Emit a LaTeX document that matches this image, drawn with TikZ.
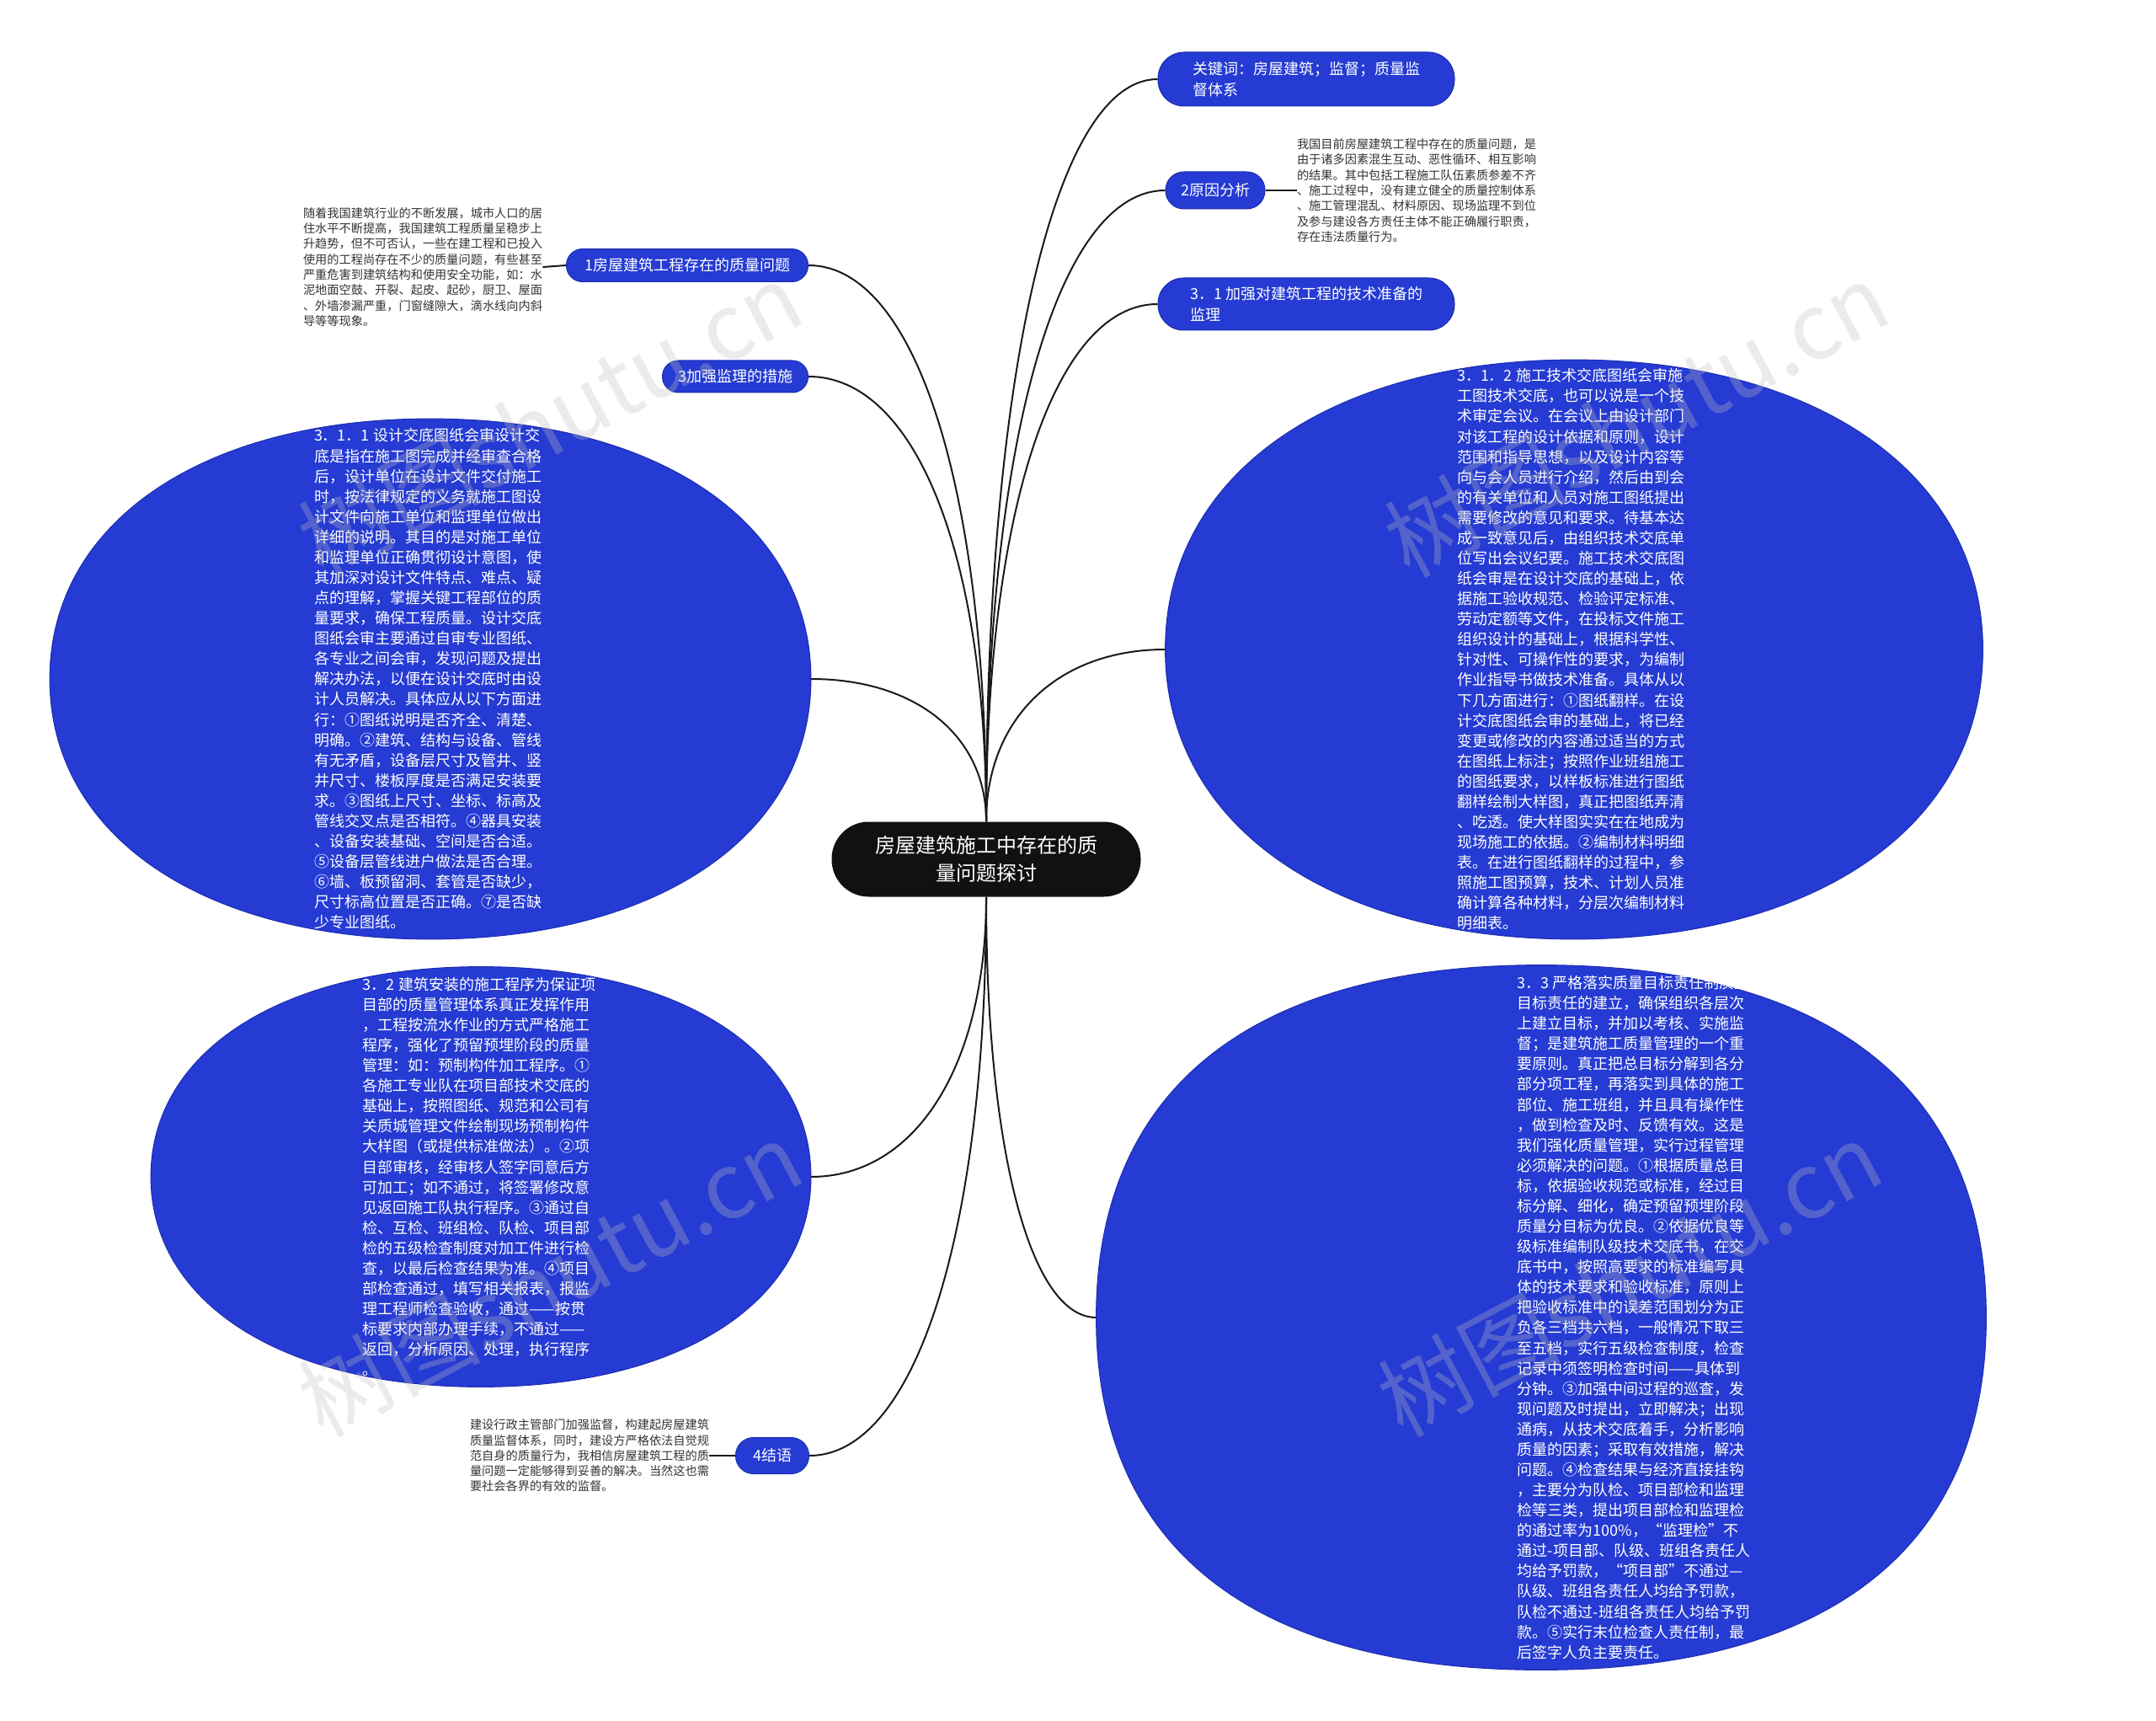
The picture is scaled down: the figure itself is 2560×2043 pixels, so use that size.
\documentclass[tikz,border=0pt]{standalone}
\usepackage{fontspec}
\setmainfont{Noto Sans CJK SC}
\usetikzlibrary{calc}
\definecolor{mmblue}{HTML}{253BD3}
\definecolor{mmborder}{HTML}{1C2DB0}
\definecolor{mmblack}{HTML}{111111}
\definecolor{mmline}{HTML}{1A1A1A}
\definecolor{mmtext}{HTML}{333333}
\definecolor{wmcol}{RGB}{190,190,190}
\newcommand{\mmlink}[3]{%
  \coordinate (#3) at (#1 |- #2);
  \draw[link] (#1) .. controls ($(#1)!0.6!(#3)$) and ($(#2)!0.6!(#3)$) .. (#2);}
\newcommand{\blob}[2]{%
  \filldraw[blobstyle] (#1.west)
   .. controls ($(#1.west)!#2!(#1.north west)$) and ($(#1.north)!#2!(#1.north west)$) .. (#1.north)
   .. controls ($(#1.north)!#2!(#1.north east)$) and ($(#1.east)!#2!(#1.north east)$) .. (#1.east)
   .. controls ($(#1.east)!#2!(#1.south east)$) and ($(#1.south)!#2!(#1.south east)$) .. (#1.south)
   .. controls ($(#1.south)!#2!(#1.south west)$) and ($(#1.west)!#2!(#1.south west)$) .. (#1.west) -- cycle;}
\begin{document}
\begin{tikzpicture}[x=0.5pt,y=-0.5pt,
  pill/.style={draw=mmborder, line width=0.5pt, fill=mmblue, text=white,
    rounded corners=#1, inner sep=0pt, align=left,
    font=\fontsize{9}{12.2}\selectfont},
  rootbox/.style={fill=mmblack, text=white, rounded corners=22pt, inner sep=0pt,
    align=center, font=\fontsize{12}{16.5}\selectfont,
    minimum width=183.5pt, minimum height=44.5pt},
  ellbox/.style={rectangle, inner sep=0pt},
  blobstyle/.style={draw=mmborder, line width=0.5pt, fill=mmblue},
  elltext/.style={text=white, align=left, inner sep=0pt,
    font=\fontsize{9}{12.04}\selectfont},
  smalltext/.style={text=mmtext, align=left, inner sep=0pt,
    font=\fontsize{7.1}{9.15}\selectfont},
  link/.style={draw=mmline, line width=1pt},
  wmark/.style={text=wmcol, opacity=0.3, font=\fontsize{54}{60}\selectfont, inner sep=0pt}
]
\fill[white] (0,0) rectangle (2560,2043);
\useasboundingbox (0,0) rectangle (2560,2043);

% ellipse frames (shapes drawn by \blob)
\node[ellbox, minimum width=451.5pt, minimum height=308.5pt] (e311) at (511,806) {};
\node[ellbox, minimum width=485pt, minimum height=343.5pt] (e312) at (1869,771) {};
\node[ellbox, minimum width=391.5pt, minimum height=249pt] (e32) at (571,1397) {};
\node[ellbox, minimum width=528pt, minimum height=418pt] (e33) at (1830,1564) {};
\blob{e311}{0.6}
\blob{e312}{0.6}
\blob{e32}{0.6}
\blob{e33}{0.65}

% root
\node[rootbox] (root) at (1171,1020) {房屋建筑施工中存在的质\\量问题探讨};

% pills
\node[pill=15.5pt, minimum width=176pt, minimum height=32pt] (kw) at (1551,94) {关键词：房屋建筑；监督；质量监\\督体系};
\node[pill=10.8pt, minimum width=59pt, minimum height=22pt] (p2) at (1443,226) {2原因分析};
\node[pill=15.2pt, minimum width=176pt, minimum height=31pt] (p31) at (1551,361) {3．1 加强对建筑工程的技术准备的\\监理};
\node[pill=9.6pt, minimum width=143.5pt, minimum height=19.5pt] (p1) at (816,315) {1房屋建筑工程存在的质量问题};
\node[pill=9.4pt, minimum width=86.5pt, minimum height=19pt] (p3) at (873,447) {3加强监理的措施};
\node[pill=10.6pt, minimum width=43.5pt, minimum height=21.5pt] (p4) at (917,1728) {4结语};

% small texts
\node[smalltext] (t1) at (502,317) {随着我国建筑行业的不断发展，城市人口的居\\住水平不断提高，我国建筑工程质量呈稳步上\\升趋势，但不可否认，一些在建工程和已投入\\使用的工程尚存在不少的质量问题，有些甚至\\严重危害到建筑结构和使用安全功能，如：水\\泥地面空鼓、开裂、起皮、起砂，厨卫、屋面\\、外墙渗漏严重，门窗缝隙大，滴水线向内斜\\导等等现象。};
\node[smalltext] (t2) at (1682,226) {我国目前房屋建筑工程中存在的质量问题，是\\由于诸多因素混生互动、恶性循环、相互影响\\的结果。其中包括工程施工队伍素质参差不齐\\、施工过程中，没有建立健全的质量控制体系\\、施工管理混乱、材料原因、现场监理不到位\\及参与建设各方责任主体不能正确履行职责，\\存在违法质量行为。};
\node[smalltext] (t4) at (700,1728) {建设行政主管部门加强监督，构建起房屋建筑\\质量监督体系，同时，建设方严格依法自觉规\\范自身的质量行为，我相信房屋建筑工程的质\\量问题一定能够得到妥善的解决。当然这也需\\要社会各界的有效的监督。};

% ellipse texts
\node[elltext] (t311) at (508,806) {3．1．1 设计交底图纸会审设计交\\底是指在施工图完成并经审查合格\\后，设计单位在设计文件交付施工\\时，按法律规定的义务就施工图设\\计文件向施工单位和监理单位做出\\详细的说明。其目的是对施工单位\\和监理单位正确贯彻设计意图，使\\其加深对设计文件特点、难点、疑\\点的理解，掌握关键工程部位的质\\量要求，确保工程质量。设计交底\\图纸会审主要通过自审专业图纸、\\各专业之间会审，发现问题及提出\\解决办法，以便在设计交底时由设\\计人员解决。具体应从以下方面进\\行：①图纸说明是否齐全、清楚、\\明确。②建筑、结构与设备、管线\\有无矛盾，设备层尺寸及管井、竖\\井尺寸、楼板厚度是否满足安装要\\求。③图纸上尺寸、坐标、标高及\\管线交叉点是否相符。④器具安装\\、设备安装基础、空间是否合适。\\⑤设备层管线进户做法是否合理。\\⑥墙、板预留洞、套管是否缺少，\\尺寸标高位置是否正确。⑦是否缺\\少专业图纸。};
\node[elltext] (t312) at (1865,771) {3．1．2 施工技术交底图纸会审施\\工图技术交底，也可以说是一个技\\术审定会议。在会议上由设计部门\\对该工程的设计依据和原则，设计\\范围和指导思想，以及设计内容等\\向与会人员进行介绍，然后由到会\\的有关单位和人员对施工图纸提出\\需要修改的意见和要求。待基本达\\成一致意见后，由组织技术交底单\\位写出会议纪要。施工技术交底图\\纸会审是在设计交底的基础上，依\\据施工验收规范、检验评定标准、\\劳动定额等文件，在投标文件施工\\组织设计的基础上，根据科学性、\\针对性、可操作性的要求，为编制\\作业指导书做技术准备。具体从以\\下几方面进行：①图纸翻样。在设\\计交底图纸会审的基础上，将已经\\变更或修改的内容通过适当的方式\\在图纸上标注；按照作业班组施工\\的图纸要求，以样板标准进行图纸\\翻样绘制大样图，真正把图纸弄清\\、吃透。使大样图实实在在地成为\\现场施工的依据。②编制材料明细\\表。在进行图纸翻样的过程中，参\\照施工图预算，技术、计划人员准\\确计算各种材料，分层次编制材料\\明细表。};
\node[elltext] (t32) at (569,1397) {3．2 建筑安装的施工程序为保证项\\目部的质量管理体系真正发挥作用\\，工程按流水作业的方式严格施工\\程序，强化了预留预埋阶段的质量\\管理：如：预制构件加工程序。①\\各施工专业队在项目部技术交底的\\基础上，按照图纸、规范和公司有\\关质城管理文件绘制现场预制构件\\大样图（或提供标准做法）。②项\\目部审核，经审核人签字同意后方\\可加工；如不通过，将签署修改意\\见返回施工队执行程序。③通过自\\检、互检、班组检、队检、项目部\\检的五级检查制度对加工件进行检\\查，以最后检查结果为准。④项目\\部检查通过，填写相关报表，报监\\理工程师检查验收，通过——按贯\\标要求内部办理手续，不通过——\\返回，分析原因、处理，执行程序\\。};
\node[elltext] (t33) at (1940,1564) {3．3 严格落实质量目标责任制质量\\目标责任的建立，确保组织各层次\\上建立目标，并加以考核、实施监\\督；是建筑施工质量管理的一个重\\要原则。真正把总目标分解到各分\\部分项工程，再落实到具体的施工\\部位、施工班组，并且具有操作性\\，做到检查及时、反馈有效。这是\\我们强化质量管理，实行过程管理\\必须解决的问题。①根据质量总目\\标，依据验收规范或标准，经过目\\标分解、细化，确定预留预埋阶段\\质量分目标为优良。②依据优良等\\级标准编制队级技术交底书，在交\\底书中，按照高要求的标准编写具\\体的技术要求和验收标准，原则上\\把验收标准中的误差范围划分为正\\负各三档共六档，一般情况下取三\\至五档，实行五级检查制度，检查\\记录中须签明检查时间——具体到\\分钟。③加强中间过程的巡查，发\\现问题及时提出，立即解决；出现\\通病，从技术交底着手，分析影响\\质量的因素；采取有效措施，解决\\问题。④检查结果与经济直接挂钩\\，主要分为队检、项目部检和监理\\检等三类，提出项目部检和监理检\\的通过率为100\%，“监理检”不\\通过-项目部、队级、班组各责任人\\均给予罚款，“项目部”不通过—\\队级、班组各责任人均给予罚款，\\队检不通过-班组各责任人均给予罚\\款。⑤实行末位检查人责任制，最\\后签字人负主要责任。};

% connectors
\mmlink{root.north}{kw.west}{c1}
\mmlink{root.north}{p2.west}{c2}
\mmlink{root.north}{p31.west}{c3}
\mmlink{root.north}{e312.west}{c4}
\mmlink{root.north}{p1.east}{c5}
\mmlink{root.north}{p3.east}{c6}
\mmlink{root.north}{e311.east}{c7}
\mmlink{root.south}{e33.west}{c8}
\mmlink{root.south}{e32.east}{c9}
\mmlink{root.south}{p4.east}{c10}
\draw[link] (p1.west) -- (t1.east);
\draw[link] (p2.east) -- (t2.west);
\draw[link] (p4.west) -- (t4.east);

% watermarks
\node[wmark, rotate=28] (w1) at (653,498) {树图shutu.cn};
\node[wmark, rotate=28] (w2) at (1943,498) {树图shutu.cn};
\node[wmark, rotate=28] (w3) at (653,1518) {树图shutu.cn};
\node[wmark, rotate=28] (w4) at (1935,1518) {树图shutu.cn};
\end{tikzpicture}
\end{document}
